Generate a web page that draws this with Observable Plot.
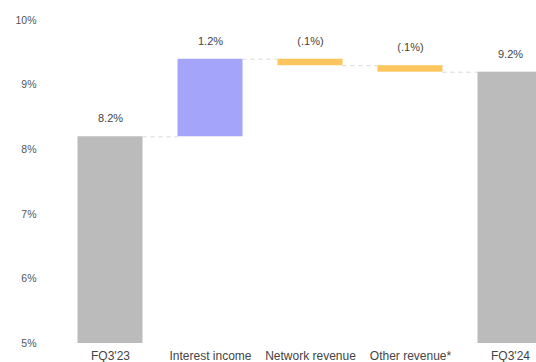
<!DOCTYPE html>
<html>
<head>
<meta charset="utf-8">
<script src="https://cdn.jsdelivr.net/npm/d3@7"></script>
<script src="https://cdn.jsdelivr.net/npm/@observablehq/plot@0.6"></script>
<style>
  html, body { margin: 0; padding: 0; background: #fff; overflow: hidden; }
  #chart { width: 536px; height: 362px; overflow: hidden; }
</style>
</head>
<body>
<div id="chart"></div>
<script>
const categories = ["FQ3'23", "Interest income", "Network revenue", "Other revenue*", "FQ3'24"];
const values = [8.2, 1.2, -0.1, -0.1, 9.2];
const kinds = ["total", "increase", "decrease", "decrease", "total"];
const valueLabels = ["8.2%", "1.2%", "(.1%)", "(.1%)", "9.2%"];
const yTicks = [5, 6, 7, 8, 9, 10];

const colors = {total: "#bbbbbb", increase: "#a4a4fb", decrease: "#fcc65c"};

// build waterfall table
let running = 0;
const rows = categories.map((c, i) => {
  let start, end;
  if (kinds[i] === "total") { start = 0; end = values[i]; }
  else { start = running; end = running + values[i]; }
  running = end;
  return {i, cat: c, start, end, top: Math.max(start, end), kind: kinds[i], label: valueLabels[i]};
});
const connectors = rows.slice(0, -1).map(r => ({i: r.i, level: r.end}));

const half = 0.325;
const plot = Plot.plot({
  width: 536,
  height: 362,
  marginLeft: 60,
  marginRight: 0,
  marginTop: 20,
  marginBottom: 19,
  style: {fontFamily: "'Liberation Sans', Arial, sans-serif", fontSize: "11px", color: "#555", background: "#fff", overflow: "hidden"},
  x: {domain: [-0.5, 4.5], range: [60, 560], axis: null},
  y: {domain: [5, 10], axis: null},
  marks: [
    Plot.rectY(rows, {x1: d => d.i - half, x2: d => d.i + half, y1: "start", y2: "end", fill: d => colors[d.kind], clip: true}),
    Plot.ruleY(connectors, {x1: d => d.i + half, x2: d => d.i + 1 - half, y: "level", stroke: "#d9d9d9", strokeWidth: 1, strokeDasharray: "4,4"}),
    Plot.text(rows, {x: "i", y: "top", text: "label", dy: -18, fill: "#444", fontSize: 11}),
    Plot.axisY({ticks: yTicks, tickFormat: d => d + "%", tickSize: 0, tickPadding: 24, fill: "#555", fontSize: 10.5, label: null}),
    Plot.axisX({ticks: d3.range(categories.length), tickFormat: i => categories[i], tickSize: 0, tickPadding: 8, fill: "#444", fontSize: 12, label: null})
  ]
});
document.getElementById("chart").appendChild(plot);
</script>
</body>
</html>
